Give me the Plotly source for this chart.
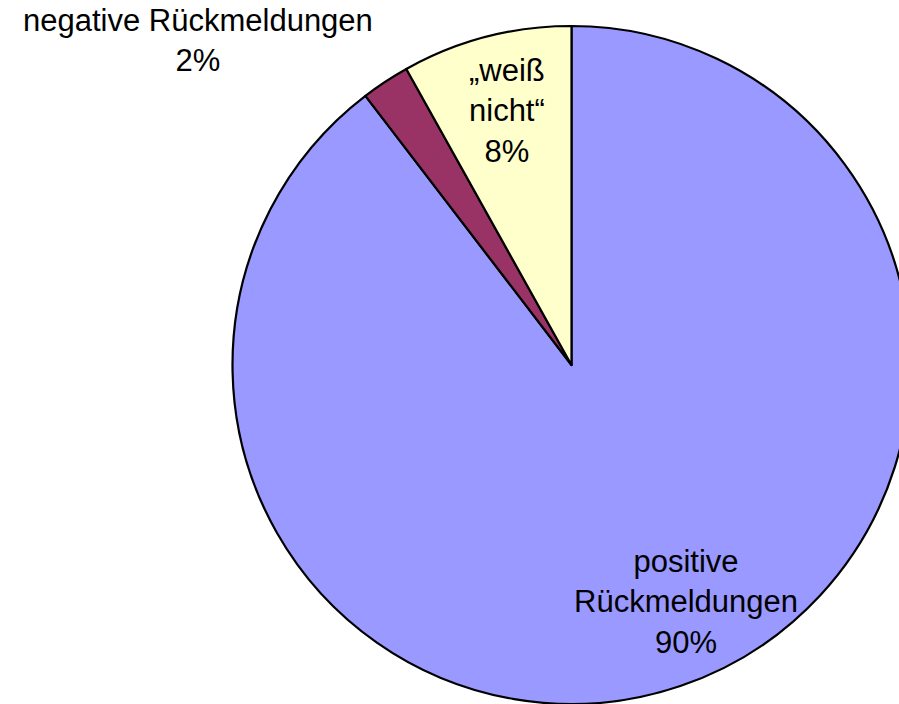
import plotly.graph_objects as go

W, H = 911, 704

categories = ["positive Rückmeldungen", "negative Rückmeldungen", "„weiß nicht“"]
values = [89.6, 2.3, 8.1]
label_lines = [["positive", "Rückmeldungen"], ["negative Rückmeldungen"], ["„weiß", "nicht“"]]
colors = ["#9999FF", "#993366", "#FFFFCC"]

total = sum(values)
pcts = [round(v / total * 100) for v in values]

fig = go.Figure(go.Pie(
    labels=categories,
    values=values,
    sort=False,
    direction="clockwise",
    rotation=0,
    marker=dict(colors=colors, line=dict(color="black", width=2.2)),
    textinfo="none",
    hoverinfo="label+percent",
    showlegend=False,
    domain=dict(x=[232 / W, 1], y=[0, 678 / H]),
))

# label anchor positions in pixels (style/layout), centers of text blocks
label_pos = [(686, 602), (198, 41), (507, 111)]
font = dict(family="Liberation Sans, Arial, sans-serif", size=31, color="black")
for lines, p, (px, py) in zip(label_lines, pcts, label_pos):
    txt = "<br>".join(lines + [f"{p}%"])
    fig.add_annotation(x=px / W, y=1 - py / H, xref="paper", yref="paper",
                       text=txt, showarrow=False, font=font,
                       xanchor="center", yanchor="middle", align="center")

fig.update_layout(
    width=W, height=H, autosize=False,
    margin=dict(l=0, r=0, t=0, b=0),
    paper_bgcolor="white", plot_bgcolor="white",
)

fig.write_html("out.html", config={"displayModeBar": False}, post_script=(
    "document.documentElement.style.overflow='hidden';"
    "document.body.style.overflow='hidden';"
    "document.body.style.margin='0';"
))
